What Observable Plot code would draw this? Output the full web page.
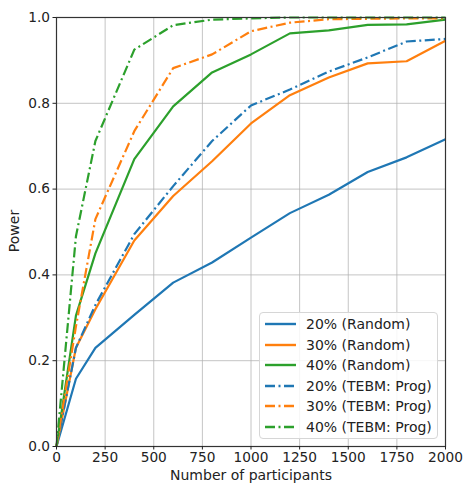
<!DOCTYPE html>
<html>
<head>
<meta charset="utf-8">
<script src="https://cdn.jsdelivr.net/npm/d3@7"></script>
<script src="https://cdn.jsdelivr.net/npm/@observablehq/plot@0.6"></script>
<style>
  body { margin: 0; background: #fff; }
  #wrap { position: relative; width: 464px; height: 485px; font-family: "DejaVu Sans", sans-serif; }
  #legend { position: absolute; left: 259px; top: 312px; width: 179px; height: 127px; box-sizing: border-box;
    border: 1px solid #d6d6d6; border-radius: 4px; background: rgba(255,255,255,0.85); }
  .row { position: absolute; left: 5px; height: 20px; display: flex; align-items: center; font-size: 14px; color: #222; white-space: nowrap; }
  .row svg { margin-right: 10px; }
</style>
</head>
<body>
<div id="wrap"><div id="legend"></div></div>
<script>
const participants = [0, 100, 200, 400, 600, 800, 1000, 1200, 1400, 1600, 1800, 2000];
const random20 = [0, 0.158, 0.23, 0.307, 0.382, 0.429, 0.487, 0.544, 0.587, 0.640, 0.674, 0.716];
const random30 = [0, 0.23, 0.32, 0.48, 0.584, 0.665, 0.753, 0.819, 0.860, 0.893, 0.898, 0.946];
const random40 = [0, 0.305, 0.45, 0.67, 0.793, 0.872, 0.914, 0.963, 0.970, 0.983, 0.984, 0.995];
const tebm20 = [0, 0.23, 0.33, 0.495, 0.607, 0.712, 0.795, 0.832, 0.874, 0.907, 0.944, 0.95];
const tebm30 = [0, 0.28, 0.53, 0.735, 0.882, 0.914, 0.968, 0.988, 0.996, 0.997, 0.998, 0.998];
const tebm40 = [0, 0.49, 0.712, 0.925, 0.982, 0.995, 0.998, 1.0, 1.0, 1.0, 1.0, 1.0];

const seriesNames = ["20% (Random)", "30% (Random)", "40% (Random)", "20% (TEBM: Prog)", "30% (TEBM: Prog)", "40% (TEBM: Prog)"];
const seriesValues = [random20, random30, random40, tebm20, tebm30, tebm40];
const colors = ["#1f77b4", "#ff7f0e", "#2ca02c", "#1f77b4", "#ff7f0e", "#2ca02c"];
const dashed = [false, false, false, true, true, true];
const xTicks = [0, 250, 500, 750, 1000, 1250, 1500, 1750, 2000];
const yTicks = [0, 0.2, 0.4, 0.6, 0.8, 1.0];
const dashPattern = "10,3.5,2,3.5";

const rows = [];
seriesNames.forEach((name, i) => {
  participants.forEach((n, j) => rows.push({series: name, n, power: seriesValues[i][j], idx: i}));
});

const lineMarks = seriesNames.map((name, i) =>
  Plot.line(rows.filter(d => d.idx === i), {
    x: "n", y: "power", stroke: colors[i], strokeWidth: 2.2,
    strokeDasharray: dashed[i] ? dashPattern : null, strokeLinejoin: "round", strokeLinecap: "butt"
  })
);

const chart = Plot.plot({
  width: 464,
  height: 485,
  marginLeft: 56,
  marginRight: 19,
  marginTop: 17,
  marginBottom: 39,
  style: { fontFamily: "DejaVu Sans, sans-serif", fontSize: "13.7px", color: "#222", background: "#fff" },
  x: { domain: [0, 2000], label: null },
  y: { domain: [0, 1], label: null },
  marks: [
    Plot.gridX(xTicks, { stroke: "#b0b0b0", strokeOpacity: 0.75, strokeWidth: 1 }),
    Plot.gridY(yTicks, { stroke: "#b0b0b0", strokeOpacity: 0.75, strokeWidth: 1 }),
    ...lineMarks,
    Plot.frame({ stroke: "#333", strokeWidth: 1.2 }),
    Plot.axisX({ ticks: xTicks, tickSize: 3.5, tickPadding: 2, tickFormat: d3.format("d"), label: null }),
    Plot.axisY({ ticks: yTicks, tickSize: 3.5, tickPadding: 3, tickFormat: d3.format(".1f"), label: null })
  ]
});

const wrap = document.getElementById("wrap");
wrap.insertBefore(chart, wrap.firstChild);

const svg = d3.select(chart);
svg.append("text").attr("x", 251).attr("y", 480).attr("text-anchor", "middle")
  .style("font-size", "14px").attr("fill", "#222").text("Number of participants");
svg.append("text").attr("transform", "translate(19,231) rotate(-90)").attr("text-anchor", "middle")
  .style("font-size", "14px").attr("fill", "#222").text("Power");

const legend = document.getElementById("legend");
seriesNames.forEach((name, i) => {
  const row = document.createElement("div");
  row.className = "row";
  row.style.top = (1 + i * 20.6) + "px";
  row.innerHTML = `<svg width="31" height="6"><line x1="0" y1="3" x2="31" y2="3" stroke="${colors[i]}" stroke-width="2.4" ${dashed[i] ? `stroke-dasharray="${dashPattern}"` : ""}/></svg><span>${name}</span>`;
  legend.appendChild(row);
});
</script>
</body>
</html>
